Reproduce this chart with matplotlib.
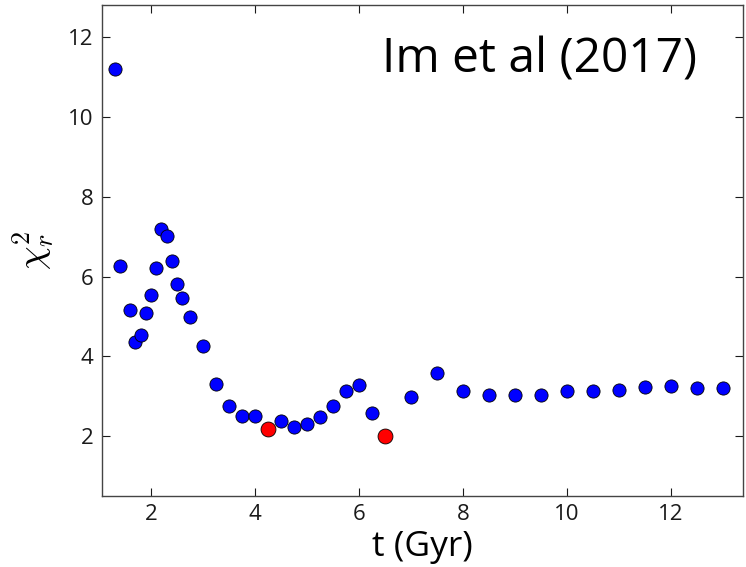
import numpy as np
import matplotlib
matplotlib.use('Agg')
import matplotlib.pyplot as plt

# age grid (Gyr) and reduced chi-square of the fits
t = [1.3, 1.4, 1.6, 1.7, 1.8, 1.9, 2.0, 2.1, 2.2, 2.3, 2.4, 2.5, 2.6,
     2.75, 3.0, 3.25, 3.5, 3.75, 4.0, 4.5, 4.75, 5.0, 5.25, 5.5, 5.75,
     6.0, 6.25, 7.0, 7.5, 8.0, 8.5, 9.0, 9.5, 10.0, 10.5, 11.0, 11.5,
     12.0, 12.5, 13.0]
chi2 = [11.2, 6.26, 5.15, 4.37, 4.53, 5.09, 5.53, 6.21, 7.19, 7.02, 6.39,
        5.80, 5.47, 4.99, 4.26, 3.30, 2.74, 2.51, 2.51, 2.37, 2.22, 2.30,
        2.48, 2.76, 3.14, 3.28, 2.57, 2.98, 3.57, 3.14, 3.03, 3.03, 3.03,
        3.14, 3.14, 3.15, 3.22, 3.25, 3.20, 3.20]

# the two minima
t_min = [4.25, 6.5]
chi2_min = [2.18, 1.99]

plt.rcParams['font.family'] = ['Open Sans', 'DejaVu Sans']
plt.rcParams['mathtext.fontset'] = 'cm'

fig = plt.figure(figsize=(7.46, 5.67), dpi=100, facecolor='white')
ax = fig.add_axes([0.1367, 0.1252, 0.8593, 0.866])

ax.scatter(t, chi2, s=90, c='blue', edgecolors='black', linewidths=0.6, zorder=3)
ax.scatter(t_min, chi2_min, s=115, c='red', edgecolors='black', linewidths=0.6, zorder=3)

ax.set_xlim(1.058, 13.385)
ax.set_ylim(0.495, 12.81)
ax.set_xticks([2, 4, 6, 8, 10, 12])
ax.set_yticks([2, 4, 6, 8, 10, 12])
ax.tick_params(direction='in', length=5.5, width=0.8, top=True, right=True,
               labelsize=16, colors='#1a1a1a', pad=6)
for sp in ax.spines.values():
    sp.set_color('#444444')
    sp.set_linewidth(1.0)

ax.set_xlabel('t (Gyr)', fontsize=25.5, labelpad=3)
ax.set_ylabel(r'$\chi_r^2$', fontsize=27, labelpad=8)

fig.text(382 / 746, 1 - 73 / 567, 'Im et al (2017)', fontsize=34.5,
         ha='left', va='baseline')

fig.savefig('out.png', dpi=100)
